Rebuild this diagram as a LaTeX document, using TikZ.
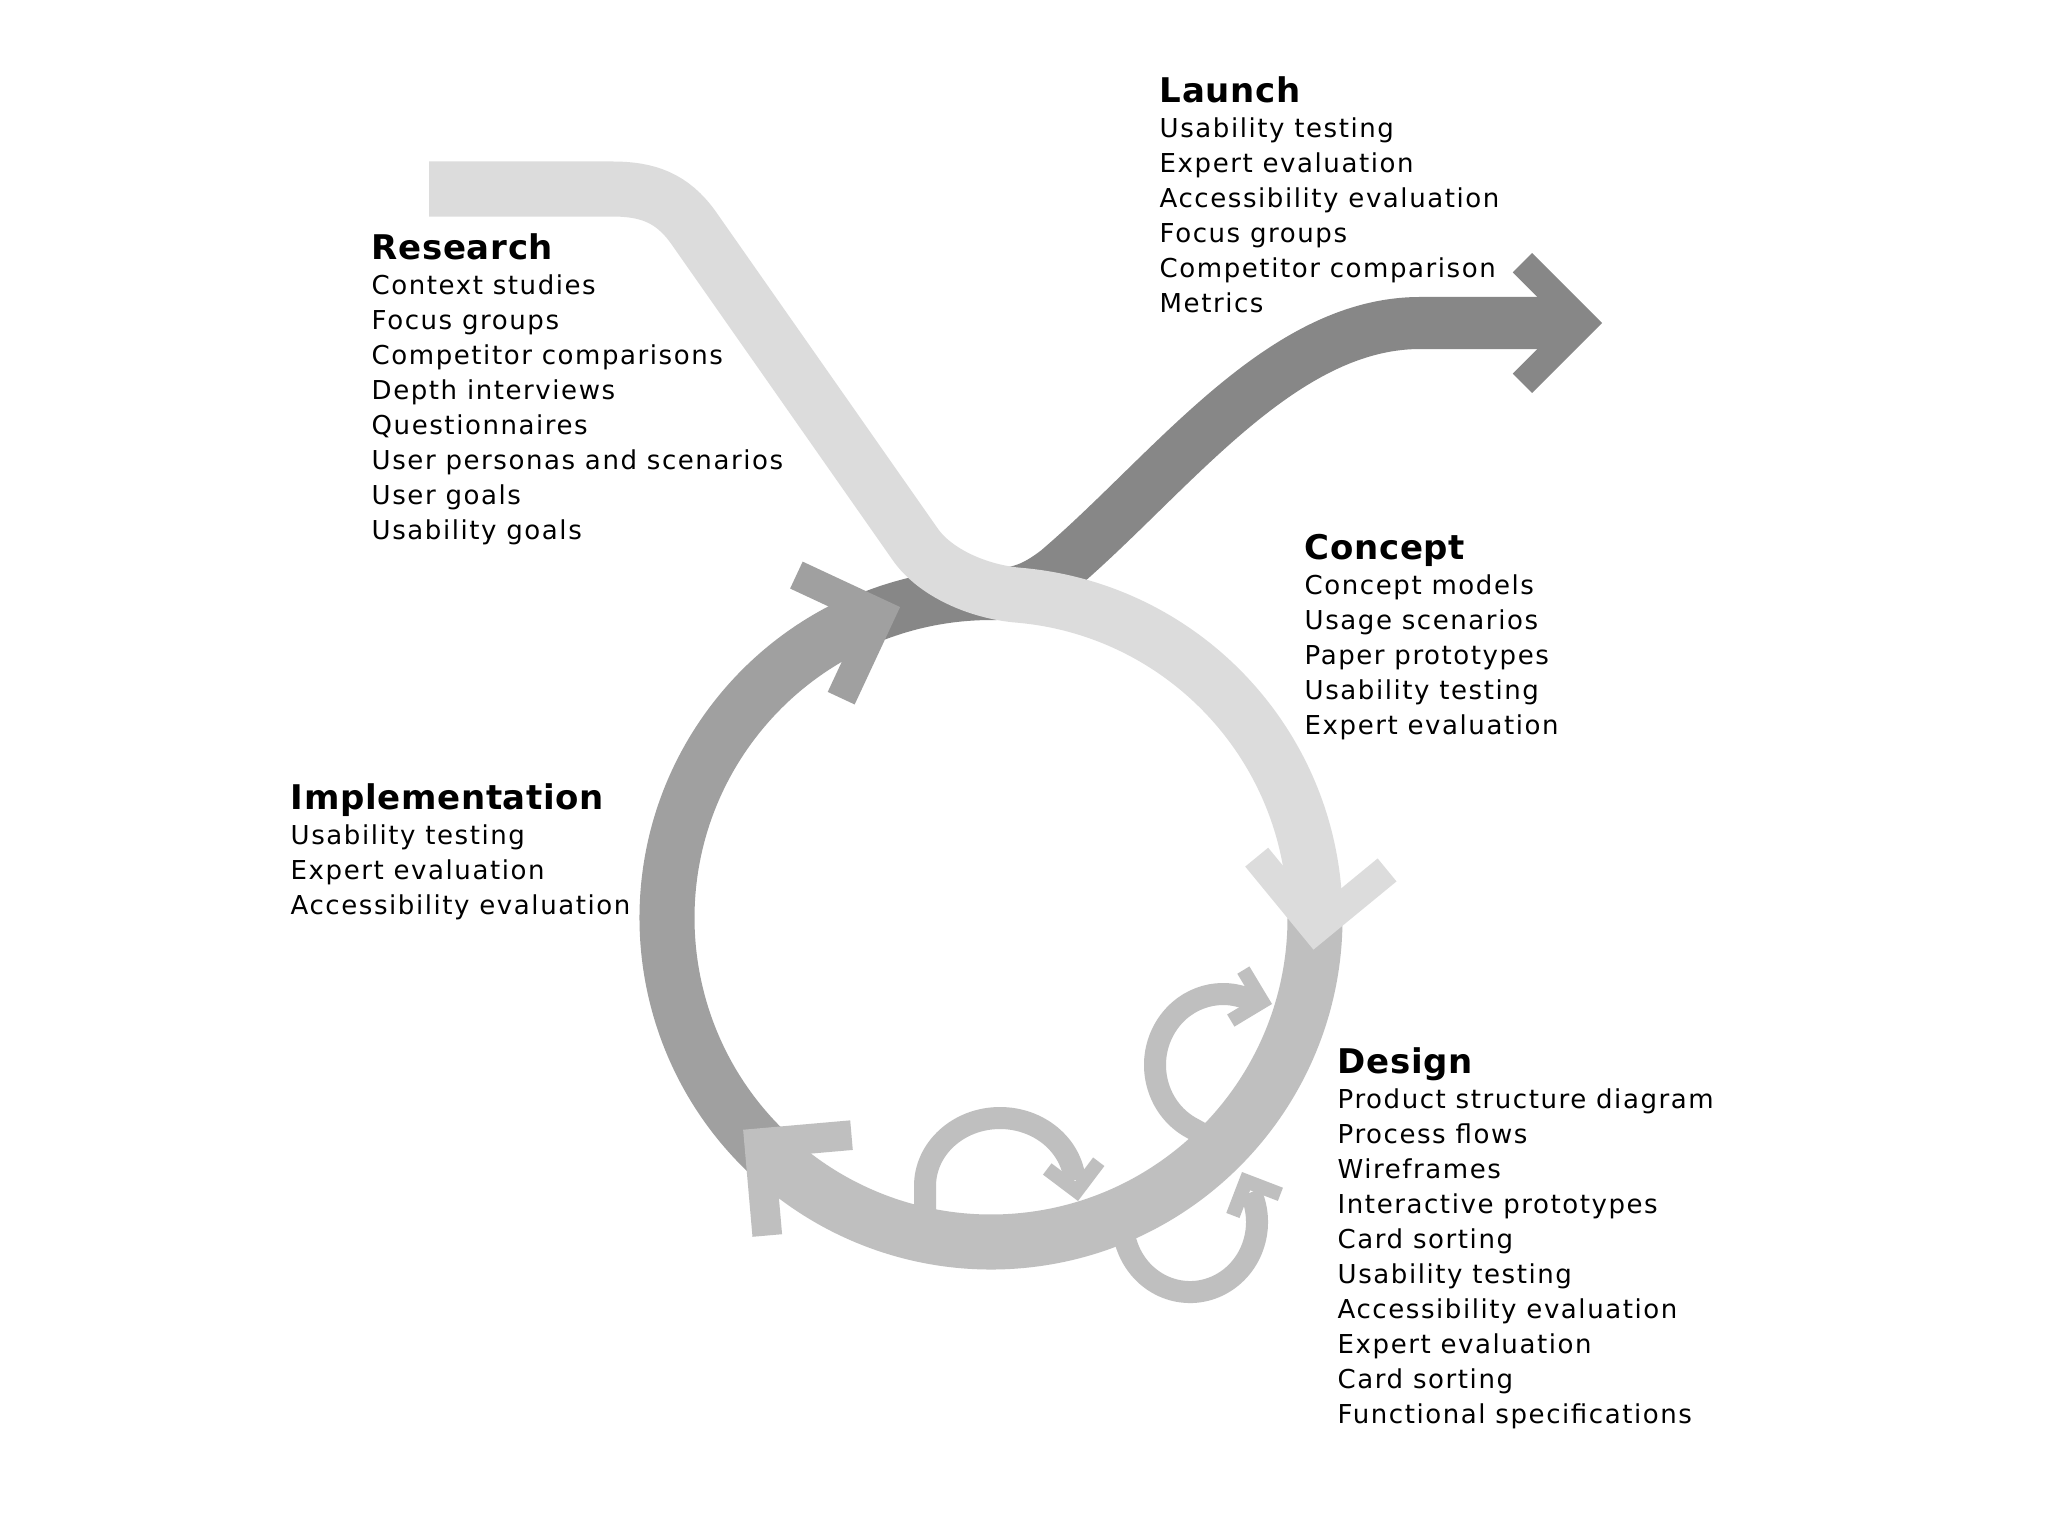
\documentclass[tikz,border=0pt]{standalone}
\usepackage{fontspec}
\setmainfont{DejaVu Sans}
\newfontfamily\bodyfont[LetterSpace=6]{DejaVu Sans}
\newfontfamily\headfont[LetterSpace=2]{DejaVu Sans}
\usetikzlibrary{calc}
\definecolor{clight}{HTML}{DCDCDC}
\definecolor{cdesign}{HTML}{BFBFBF}
\definecolor{cimpl}{HTML}{A0A0A0}
\definecolor{cdark}{HTML}{878787}
\tikzset{
  rib/.style={line width=0.55cm},
  lightrib/.style={rib, draw=clight},
  designrib/.style={rib, draw=cdesign},
  implrib/.style={rib, draw=cimpl},
  darkrib/.style={line width=0.52cm, draw=cdark},
  loopline/.style={draw=cdesign, line width=0.22cm},
  headtxt/.style={anchor=base west, inner sep=0, text=black, font=\headfont\bfseries\fontsize{9.67pt}{12pt}\selectfont},
  bodytxt/.style={anchor=base west, inner sep=0, text=black, font=\bodyfont\fontsize{7.4pt}{9pt}\selectfont},
  chevbig/.pic={\path[pic actions] (0,0)--(-76,-76)--(-97,-55)--(-42,0)--(-97,55)--(-76,76)--cycle;},
  chevsmall/.pic={\path[pic actions] (0,0)--(-31,-31)--(-41,-21)--(-20,0)--(-41,21)--(-31,31)--cycle;},
}
\newcommand\phaseblock[5]{%
  \node[headtxt] (#1-h) at (#2,#3) {#4};
  \foreach \linetext [count=\k] in {#5} {\node[bodytxt] (#1-\k) at (#2,#3+35*\k) {\linetext};}
}
\begin{document}
\begin{tikzpicture}[x=0.01cm,y=-0.01cm]
\useasboundingbox (0,0) rectangle (2048,1536);
\fill[white] (0,0) rectangle (2048,1536);
\coordinate (O) at (991,918);

% implementation arc (left half of the cycle)
\draw[implrib] ($(O)+(130:324)$) arc[start angle=130, end angle=247.5, radius=324];
% launch ribbon (dark)
\draw[darkrib] ($(O)+(-113:324)$) arc[start angle=-113, end angle=-90, radius=324]
  -- (995,594) .. controls (1020,594) and (1036,587) .. (1057,571)
  .. controls (1170,475) and (1280,323) .. (1420,323) -- (1566,323);
\pic[fill=cimpl, rotate=20] (implhead) at ($(O)+(-106.3:324)$) {chevbig};
% design arc
\draw[designrib] ($(O)+(-3:324)$) arc[start angle=-3, end angle=133, radius=324];
\pic[fill=cdesign, rotate=140] (designhead) at ($(O)+(139.5:326)$) {chevbig};
% design iteration loops
\draw[loopline] (1215,1141) -- (1189,1126.5) arc[start angle=120, end angle=290, x radius=68, y radius=71] -- (1255,1000);
\pic[fill=cdesign, rotate=-14] (loopAhead) at (1272,1004) {chevsmall};
\draw[loopline] (925,1228) -- (925,1186) arc[start angle=180, end angle=355, x radius=75, y radius=68];
\pic[fill=cdesign, rotate=-82] (loopBhead) at (1078,1201) {chevsmall};
\draw[loopline] (1125.3,1203.9) arc[start angle=195, end angle=-25, x radius=67, y radius=70];
\pic[fill=cdesign, rotate=114] (loopChead) at (1242,1172) {chevsmall};
% research / concept ribbon (light)
\draw[lightrib] (429,189) -- (612,189) .. controls (648,189) and (672,198) .. (693,227)
  -- (915,544) .. controls (935,573) and (979,592) .. ($(O)+(-85:324)$)
  arc[start angle=-85, end angle=-1, radius=324];
\pic[fill=clight, rotate=-95.6] (concepthead) at ($(O)+(5.6:324)$) {chevbig};
\pic[fill=cdark, scale=0.92] (launchhead) at (1602,323) {chevbig};

% texts
\phaseblock{launch}{1159}{102}{Launch}{Usability testing,Expert evaluation,Accessibility evaluation,Focus groups,Competitor comparison,Metrics}
\phaseblock{research}{371}{259}{Research}{Context studies,Focus groups,Competitor comparisons,Depth interviews,Questionnaires,User personas and scenarios,User goals,Usability goals}
\phaseblock{concept}{1304}{559}{Concept}{Concept models,Usage scenarios,Paper prototypes,Usability testing,Expert evaluation}
\phaseblock{impl}{290}{809}{Implementation}{Usability testing,Expert evaluation,Accessibility evaluation}
\phaseblock{design}{1337}{1073}{Design}{Product structure diagram,Process flows,Wireframes,Interactive prototypes,Card sorting,Usability testing,Accessibility evaluation,Expert evaluation,Card sorting,Functional specifications}
\end{tikzpicture}
\end{document}
